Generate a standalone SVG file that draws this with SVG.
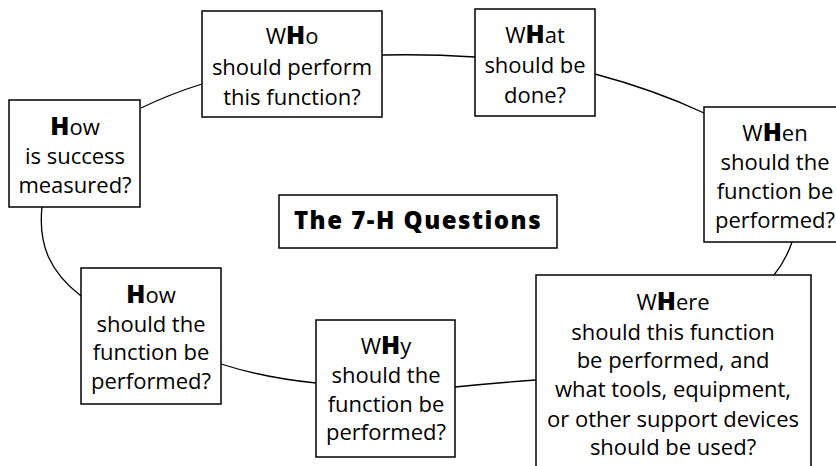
<svg xmlns="http://www.w3.org/2000/svg" width="836" height="466" viewBox="0 0 836 466">
<style>
.box{fill:#fff;stroke:#000;stroke-width:1.5}
.t{font-family:"Open Sans","Liberation Sans",sans-serif;font-size:22px;fill:#000;text-anchor:middle}
.h{font-weight:800;font-size:25px}
.title{font-family:"Open Sans","Liberation Sans",sans-serif;font-size:24px;font-weight:800;letter-spacing:1.5px;fill:#000;text-anchor:middle}
.c{fill:none;stroke:#000;stroke-width:1.3}
</style>
<rect width="836" height="466" fill="#fff"/>
<g id="connectors">
<path class="c" d="M202,84 Q170,94 141,108"/>
<path class="c" d="M382,55 Q430,54 475,57"/>
<path class="c" d="M595,74 Q655,90 704,113"/>
<path class="c" d="M792,242 Q786,260 774,275"/>
<path class="c" d="M536,380 Q495,383 455,387"/>
<path class="c" d="M316,383 Q265,378 221,364"/>
<path class="c" d="M42,207 C38,245 50,272 81,296"/>
</g>
<g id="who">
<rect class="box" x="202" y="11" width="180" height="106"/>
<text class="t" x="292" y="44">W<tspan class="h">H</tspan>o</text>
<text class="t" x="292" y="75">should perform</text>
<text class="t" x="292" y="105">this function?</text>
</g>
<g id="what">
<rect class="box" x="475" y="9" width="120" height="107"/>
<text class="t" x="535" y="43">W<tspan class="h">H</tspan>at</text>
<text class="t" x="535" y="73">should be</text>
<text class="t" x="535" y="103">done?</text>
</g>
<g id="when">
<rect class="box" x="704" y="107" width="140" height="135"/>
<text class="t" x="775" y="141">W<tspan class="h">H</tspan>en</text>
<text class="t" x="775" y="170">should the</text>
<text class="t" x="775" y="199">function be</text>
<text class="t" x="775" y="228">performed?</text>
</g>
<g id="where">
<rect class="box" x="536" y="275" width="275" height="200"/>
<text class="t" x="673" y="310">W<tspan class="h">H</tspan>ere</text>
<text class="t" x="673" y="340">should this function</text>
<text class="t" x="673" y="368">be performed, and</text>
<text class="t" x="673" y="397">what tools, equipment,</text>
<text class="t" x="673" y="427">or other support devices</text>
<text class="t" x="673" y="455">should be used?</text>
</g>
<g id="why">
<rect class="box" x="316" y="320" width="139" height="137"/>
<text class="t" x="386" y="354">W<tspan class="h">H</tspan>y</text>
<text class="t" x="386" y="383">should the</text>
<text class="t" x="386" y="412">function be</text>
<text class="t" x="386" y="440">performed?</text>
</g>
<g id="how-performed">
<rect class="box" x="81" y="268" width="140" height="136"/>
<text class="t" x="151" y="303"><tspan class="h">H</tspan>ow</text>
<text class="t" x="151" y="332">should the</text>
<text class="t" x="151" y="360">function be</text>
<text class="t" x="151" y="389">performed?</text>
</g>
<g id="how-measured">
<rect class="box" x="9" y="100" width="131" height="107"/>
<text class="t" x="75" y="135"><tspan class="h">H</tspan>ow</text>
<text class="t" x="75" y="164">is success</text>
<text class="t" x="75" y="193">measured?</text>
</g>
<g id="title">
<rect class="box" x="279" y="195" width="278" height="53"/>
<text class="title" x="418" y="229">The 7-H Questions</text>
</g>
</svg>
